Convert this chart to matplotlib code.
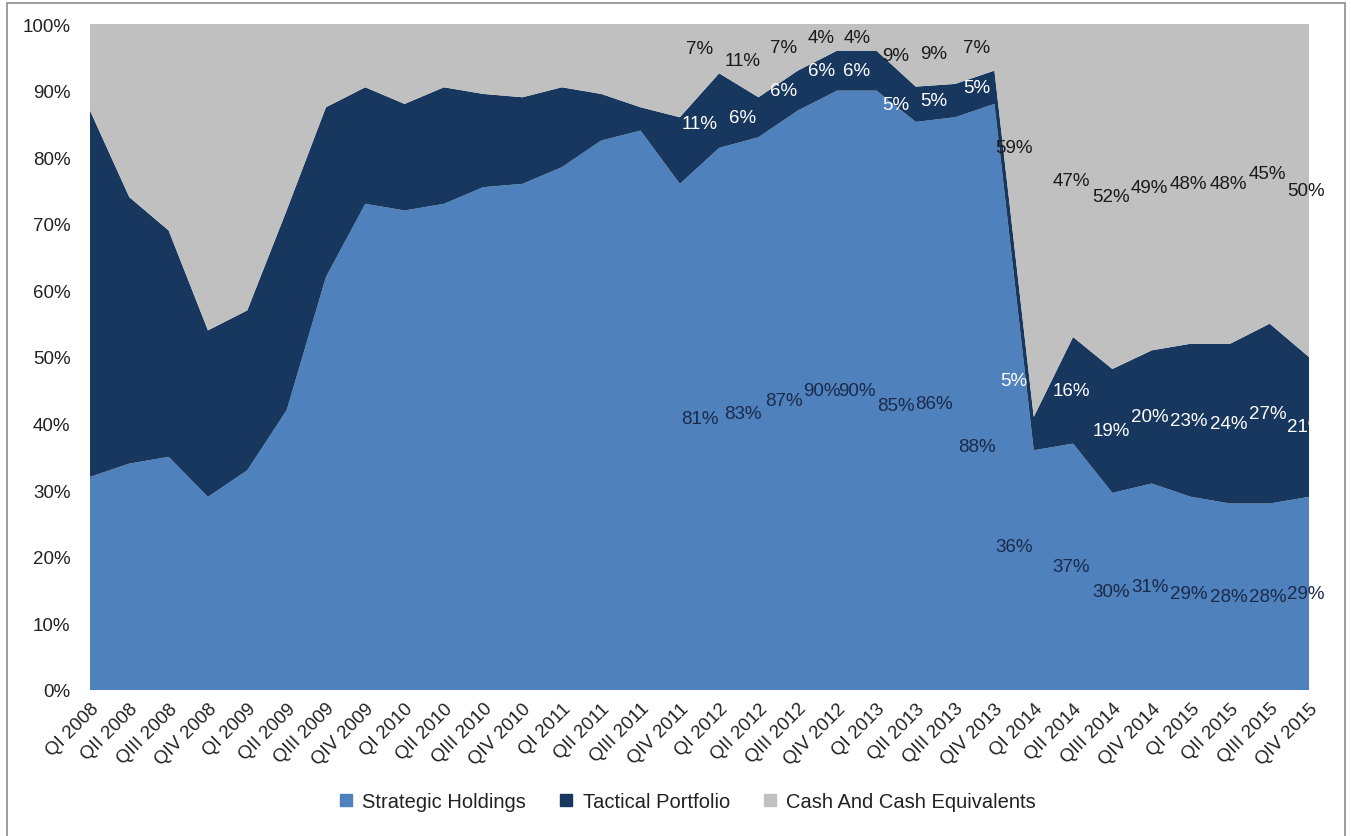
import matplotlib
matplotlib.use("Agg")
import matplotlib.pyplot as plt
from matplotlib.patches import Rectangle
import numpy as np

plt.rcParams["font.family"] = ["Liberation Sans", "DejaVu Sans"]

# Quarterly asset allocation, % of portfolio
quarters = [
    "QI 2008", "QII 2008", "QIII 2008", "QIV 2008",
    "QI 2009", "QII 2009", "QIII 2009", "QIV 2009",
    "QI 2010", "QII 2010", "QIII 2010", "QIV 2010",
    "QI 2011", "QII 2011", "QIII 2011", "QIV 2011",
    "QI 2012", "QII 2012", "QIII 2012", "QIV 2012",
    "QI 2013", "QII 2013", "QIII 2013", "QIV 2013",
    "QI 2014", "QII 2014", "QIII 2014", "QIV 2014",
    "QI 2015", "QII 2015", "QIII 2015", "QIV 2015",
]
strategic = [32, 34, 35, 29, 33, 42, 62, 73,
             72, 73, 75.5, 76, 78.5, 82.5, 84, 76,
             81.4, 83, 87, 90, 90, 85.3, 86, 88,
             36, 37, 29.6, 31, 29, 28, 28, 29]
tactical = [55, 40, 34, 25, 24, 30, 25.5, 17.5,
            16, 17.5, 14, 13, 12, 7, 3.5, 10,
            11.2, 6, 6, 6, 6, 5.3, 5, 5,
            5, 16, 18.6, 20, 23, 24, 27, 21]
cash = [13, 26, 31, 46, 43, 28, 12.5, 9.5,
        12, 9.5, 10.5, 11, 9.5, 10.5, 12.5, 14,
        7.4, 11, 7, 4, 4, 9.4, 9, 7,
        59, 47, 51.8, 49, 48, 48, 45, 50]
series_names = ["Strategic Holdings", "Tactical Portfolio", "Cash And Cash Equivalents"]
colors = ["#4F81BD", "#17375E", "#C0C0C0"]
label_colors = ["#1B2A4A", "#FFFFFF", "#1A1A1A"]

# Data labels are shown from QI 2012 onwards
first_labelled = 16
# horizontal nudge of the label column for each labelled quarter (category units)
label_dx = [-0.5, -0.4, -0.35, -0.4, -0.5, -0.5, -0.55, -0.45,
            -0.5, -0.05, -0.03, -0.05, -0.06, -0.05, -0.05, -0.08]
# a few labels were moved by hand: (series, quarter index) -> y in %
label_y_override = {(0, 23): 36.6, (0, 24): 21.6, (1, 24): 46.5, (2, 24): 81.5,
                    (1, 16): 85.0}

fig = plt.figure(figsize=(13.51, 8.37), dpi=100)
ax = fig.add_axes([90 / 1351, 1 - 691 / 837, (1309 - 90) / 1351, (691 - 25) / 837])

x = np.arange(len(quarters))
ax.stackplot(x, strategic, tactical, cash, colors=colors, linewidth=0)

ax.set_xlim(0, len(quarters) - 1)
ax.set_ylim(0, 100)
ax.set_yticks(np.arange(0, 101, 10))
ax.set_yticklabels([f"{v}%" for v in range(0, 101, 10)], fontsize=13.5, color="#222222")
ax.set_xticks(x)
ax.set_xticklabels(quarters, rotation=45, ha="right", rotation_mode="anchor",
                   fontsize=13.5, color="#222222")
ax.tick_params(axis="both", length=0)
ax.tick_params(axis="y", pad=14)
ax.tick_params(axis="x", pad=7)
for s in ax.spines.values():
    s.set_visible(False)

values = [strategic, tactical, cash]
for i in range(first_labelled, len(quarters)):
    base = 0.0
    xi = i + label_dx[i - first_labelled]
    for k, vals in enumerate(values):
        v = vals[i]
        y = label_y_override.get((k, i), base + v / 2)
        ax.text(xi, y, f"{round(v)}%", ha="center", va="center",
                fontsize=13.5, color=label_colors[k], clip_on=False)
        base += v

# legend with square markers along the bottom
handles = [plt.Line2D([], [], marker="s", linestyle="none", markersize=9,
                      markerfacecolor=c, markeredgecolor=c) for c in colors]
fig.legend(handles, series_names, loc="center", bbox_to_anchor=(681 / 1351, 1 - 803 / 837),
           ncol=3, frameon=False, fontsize=14.5, handletextpad=-0.2, columnspacing=1.0,
           labelcolor="#222222")

# thin frame around the chart area
fig.add_artist(Rectangle((7 / 1351, -0.02), (1345 - 7) / 1351, 1.02 - 4 / 837,
                         transform=fig.transFigure, fill=False, edgecolor="#8C8C8C", lw=1.2))

fig.savefig("out.png", dpi=100)
